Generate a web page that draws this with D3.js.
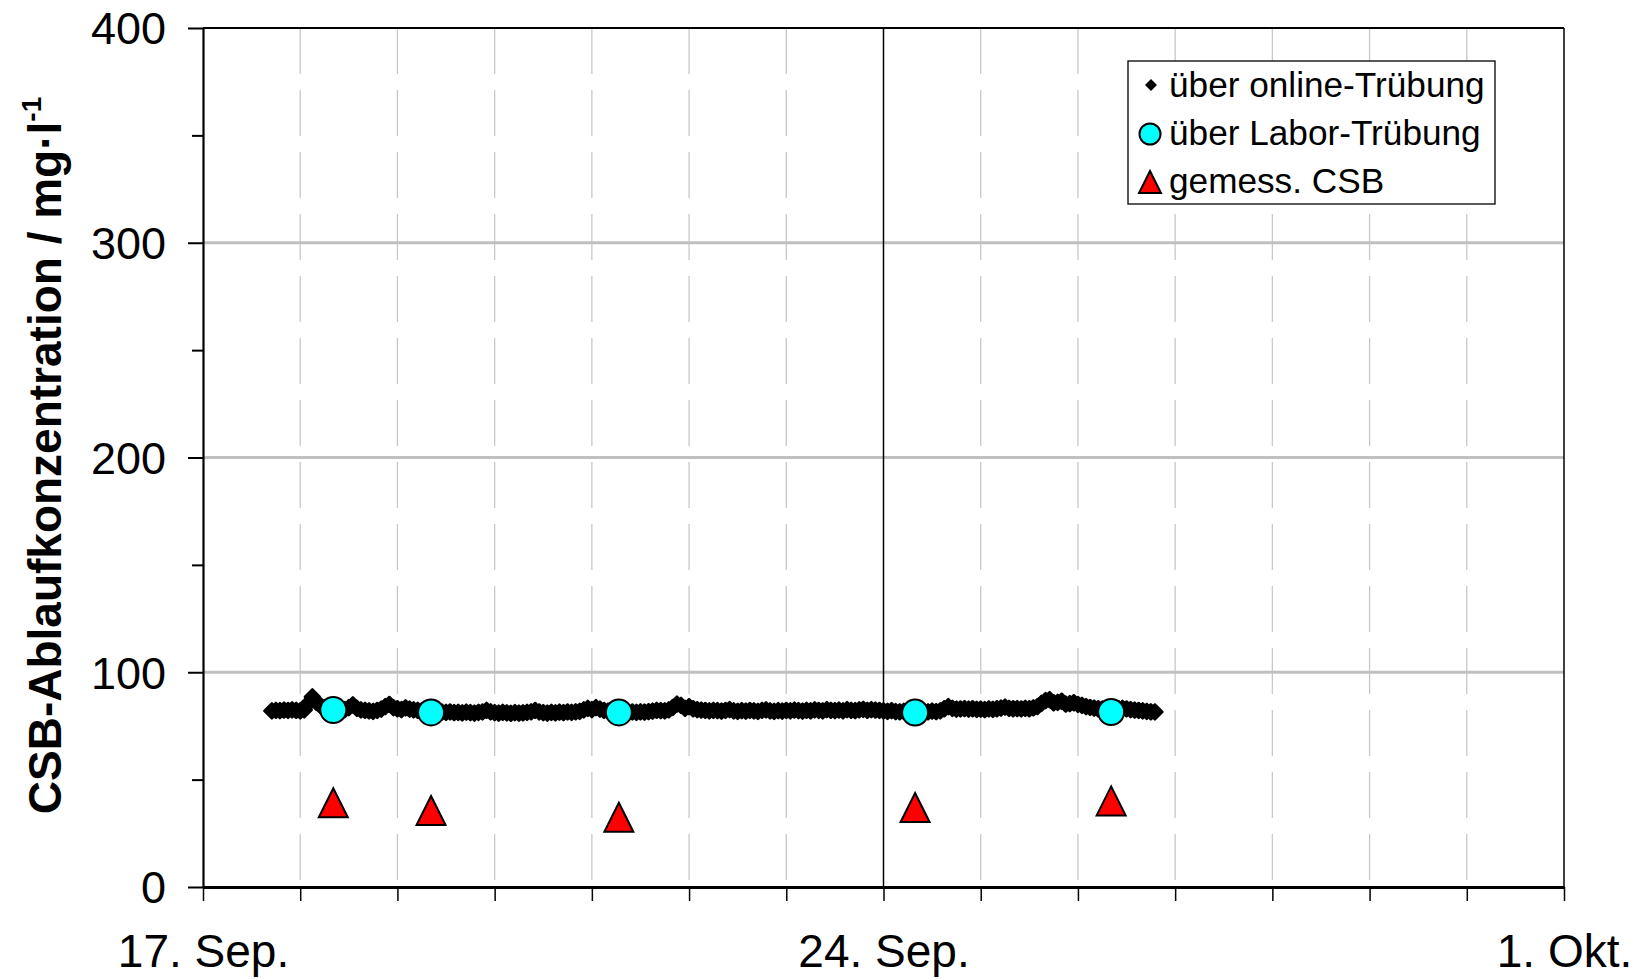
<!DOCTYPE html>
<html><head><meta charset="utf-8">
<script src="https://cdn.jsdelivr.net/npm/d3@7"></script>
<style>
html,body{margin:0;padding:0;background:#fff;}
svg{display:block;}
text{font-family:"Liberation Sans",Arial,sans-serif;fill:#000;}
</style></head>
<body>
<svg id="chart" width="1640" height="979"></svg>
<script>
// ---------- data ----------
const xDomain = ["2007-09-17T00:00", "2007-10-01T00:00"];
const xTickDays = ["2007-09-17","2007-09-18","2007-09-19","2007-09-20","2007-09-21","2007-09-22","2007-09-23","2007-09-24","2007-09-25","2007-09-26","2007-09-27","2007-09-28","2007-09-29","2007-09-30","2007-10-01"];
const xLabelDays = ["2007-09-17","2007-09-24","2007-10-01"];
const xLabels = ["17. Sep.","24. Sep.","1. Okt."];
const yMajorTicks = [0,100,200,300,400];
const yMinorTicks = [50,150,250,350];
const yGridValues = [100,200,300];

// online turbidity derived COD, hourly values per day
const onlineDays = ["2007-09-17","2007-09-18","2007-09-19","2007-09-20","2007-09-21","2007-09-22","2007-09-23","2007-09-24","2007-09-25","2007-09-26"];
const onlineFirstHour = [17,0,0,0,0,0,0,0,0,0];
const online17 = [82.0,82.3,82.1,82.4,82.2,82.5,82.3];
const online18 = [82.0,82.5,85.5,88.5,86.0,84.5,83.5,83.0,82.8,83.2,83.0,82.6,83.5,84.8,83.2,82.5,82.3,82.0,81.8,82.2,82.8,84.0,85.0,83.5];
const online19 = [83.0,82.6,83.4,82.8,82.5,82.3,82.0,81.8,81.6,81.5,81.7,81.4,81.3,81.5,81.2,81.3,81.1,81.4,81.2,81.0,81.3,81.5,82.3,81.6];
const online20 = [81.2,81.0,81.3,81.1,80.9,81.2,81.0,81.1,81.3,81.6,82.2,81.5,81.2,81.0,81.3,81.1,81.4,81.2,81.5,81.3,81.6,81.8,82.5,83.2];
const online21 = [82.6,83.5,82.8,82.2,81.9,81.6,81.4,81.3,81.4,81.2,81.5,81.3,81.6,81.4,81.7,81.9,82.3,82.1,82.0,82.5,83.6,85.2,84.6,83.2];
const online22 = [84.0,83.0,82.6,82.4,82.2,82.0,82.3,82.1,81.9,82.2,82.6,82.0,81.8,82.1,81.9,82.2,82.0,81.8,82.3,82.5,82.0,81.8,82.1,81.9];
const online23 = [82.2,82.0,82.4,82.1,81.9,82.3,82.0,82.5,82.2,82.0,82.6,82.3,82.1,82.4,82.0,82.6,82.3,82.1,82.5,82.7,82.3,82.6,82.4,82.2];
const online24 = [82.0,81.8,82.1,81.7,81.6,81.8,81.5,81.6,81.7,81.5,81.8,81.6,81.9,81.7,82.0,83.0,84.0,83.2,82.8,82.9,83.1,82.8,83.0,82.7];
const online25 = [82.8,82.6,82.9,82.7,83.0,83.3,83.8,83.2,83.0,83.1,82.9,83.2,83.0,83.4,84.0,85.5,86.8,87.2,85.8,86.0,86.5,85.2,85.4,85.8];
const online26 = [85.0,84.6,84.0,83.6,83.3,83.0,82.8,82.5,82.3,82.6,83.0,83.2,82.9,82.6,82.4,82.2,82.0,81.8,81.6,81.5];
const onlineValues = [online17,online18,online19,online20,online21,online22,online23,online24,online25,online26];

// lab samples
const labTimes = ["2007-09-18T08:10","2007-09-19T08:18","2007-09-21T06:40","2007-09-24T07:48","2007-09-26T08:12"];
const labTurbidityCOD = [82.4,81.3,81.3,81.2,81.5];
const measuredCOD = [39.2,35.6,32.5,37.0,40.1];

const legendLabels = ["über online-Trübung","über Labor-Trübung","gemess. CSB"];

// ---------- drawing ----------
const parseT = d3.utcParse("%Y-%m-%dT%H:%M");
const parseD = d3.utcParse("%Y-%m-%d");
const svg = d3.select("#chart");
const L = 203, R = 1564, T = 28, B = 887;
const x = d3.scaleUtc().domain(xDomain.map(parseT)).range([L, R]);
const y = d3.scaleLinear().domain([0, 400]).range([B, T]);

const online = [];
onlineDays.forEach((d, i) => {
  const base = parseD(d);
  onlineValues[i].forEach((v, j) => {
    online.push({t: d3.utcHour.offset(base, onlineFirstHour[i] + j), v});
  });
});
const labs = labTimes.map((t, i) => ({t: parseT(t), lab: labTurbidityCOD[i], csb: measuredCOD[i]}));

// vertical dashed day gridlines
const tickDates = xTickDays.map(parseD);
svg.append("g").selectAll("line")
  .data(tickDates.filter(d => !xLabelDays.map(s => +parseD(s)).includes(+d)))
  .join("line")
  .attr("x1", d => x(d)).attr("x2", d => x(d))
  .attr("y1", T).attr("y2", B)
  .attr("stroke", "#c8c8c8").attr("stroke-width", 1.3)
  .attr("stroke-dasharray", "46,16");

// horizontal gridlines
svg.append("g").selectAll("line").data(yGridValues).join("line")
  .attr("x1", L).attr("x2", R)
  .attr("y1", d => y(d)).attr("y2", d => y(d))
  .attr("stroke", "#c0c0c0").attr("stroke-width", 3);

// 24 Sep solid line
svg.append("line")
  .attr("x1", x(parseD(xLabelDays[1]))).attr("x2", x(parseD(xLabelDays[1])))
  .attr("y1", T).attr("y2", B).attr("stroke", "#000").attr("stroke-width", 1.5);
// top and right border
svg.append("line").attr("x1", L).attr("x2", R).attr("y1", T).attr("y2", T)
  .attr("stroke", "#000").attr("stroke-width", 2);
svg.append("line").attr("x1", R).attr("x2", R).attr("y1", T).attr("y2", B)
  .attr("stroke", "#000").attr("stroke-width", 1.5);

// y axis
const yAxis = svg.append("g").attr("transform", `translate(${L},0)`)
  .call(d3.axisLeft(y).tickValues(yMajorTicks).tickSize(15).tickSizeOuter(0).tickPadding(22).tickFormat(d3.format("d")));
svg.append("g").attr("transform", `translate(${L},0)`)
  .call(d3.axisLeft(y).tickValues(yMinorTicks).tickSize(11).tickSizeOuter(0).tickFormat(""))
  .call(g => g.select(".domain").remove())
  .selectAll("line").attr("stroke-width", 2);
yAxis.select(".domain").attr("stroke-width", 2.2);
yAxis.selectAll(".tick line").attr("stroke-width", 2);
yAxis.selectAll("text").attr("font-size", 45).attr("font-family", "Liberation Sans, Arial, sans-serif").attr("dy", "0.35em");

// x axis
const labelMap = new Map(xLabelDays.map((d, i) => [+parseD(d), xLabels[i]]));
const xAxis = svg.append("g").attr("transform", `translate(0,${B})`)
  .call(d3.axisBottom(x).tickValues(tickDates).tickSize(14).tickSizeOuter(0).tickPadding(33)
    .tickFormat(d => labelMap.get(+d) || ""));
xAxis.select(".domain").attr("stroke-width", 3);
xAxis.selectAll(".tick line").attr("stroke-width", 1.5);
xAxis.selectAll("text").attr("font-size", 46).attr("font-family", "Liberation Sans, Arial, sans-serif");

// y title
const title = svg.append("text")
  .attr("transform", `translate(61,${(T + B) / 2 - 2}) rotate(-90)`)
  .attr("text-anchor", "middle")
  .attr("font-size", 46).attr("font-weight", "bold");
title.append("tspan").text("CSB-Ablaufkonzentration / mg·l");
title.append("tspan").attr("font-size", 28).attr("dy", "-20").text("-1");

// symbols
const diamond = {draw(ctx, size) { const r = Math.sqrt(size / 2); ctx.moveTo(0, -r); ctx.lineTo(r, 0); ctx.lineTo(0, r); ctx.lineTo(-r, 0); ctx.closePath(); }};
const tri = {draw(ctx, size) { const h = Math.sqrt(size) / 2; ctx.moveTo(0, -h); ctx.lineTo(h, h); ctx.lineTo(-h, h); ctx.closePath(); }};

svg.append("g").selectAll("path").data(online).join("path")
  .attr("transform", d => `translate(${x(d.t)},${y(d.v)})`)
  .attr("d", d3.symbol(diamond, 2 * 7.5 * 7.5))
  .attr("fill", "#000").attr("stroke", "#000").attr("stroke-width", 2.5).attr("stroke-linejoin", "round");

svg.append("g").selectAll("circle").data(labs).join("circle")
  .attr("cx", d => x(d.t)).attr("cy", d => y(d.lab)).attr("r", 13)
  .attr("fill", "#00ffff").attr("stroke", "#000").attr("stroke-width", 2);

svg.append("g").selectAll("path").data(labs).join("path")
  .attr("transform", d => `translate(${x(d.t)},${y(d.csb)})`)
  .attr("d", d3.symbol(tri, 29 * 29))
  .attr("fill", "#ff0000").attr("stroke", "#000").attr("stroke-width", 2).attr("stroke-linejoin", "miter");

// legend
const lg = svg.append("g");
lg.append("rect").attr("x", 1128).attr("y", 61).attr("width", 367).attr("height", 143)
  .attr("fill", "#fff").attr("stroke", "#000").attr("stroke-width", 1.3);
const rows = [97, 145, 193];
lg.selectAll("text").data(legendLabels).join("text")
  .attr("x", 1169).attr("y", (d, i) => rows[i]).attr("font-size", 35.2).text(d => d);
lg.append("path").attr("transform", `translate(1151,${rows[0] - 12})`).attr("d", d3.symbol(diamond, 72)).attr("fill", "#000");
lg.append("circle").attr("cx", 1150).attr("cy", rows[1] - 11).attr("r", 10.5)
  .attr("fill", "#00ffff").attr("stroke", "#000").attr("stroke-width", 2);
lg.append("path").attr("transform", `translate(1150,${rows[2] - 11})`).attr("d", d3.symbol(tri, 22 * 22))
  .attr("fill", "#ff0000").attr("stroke", "#000").attr("stroke-width", 2);
</script>
</body></html>
